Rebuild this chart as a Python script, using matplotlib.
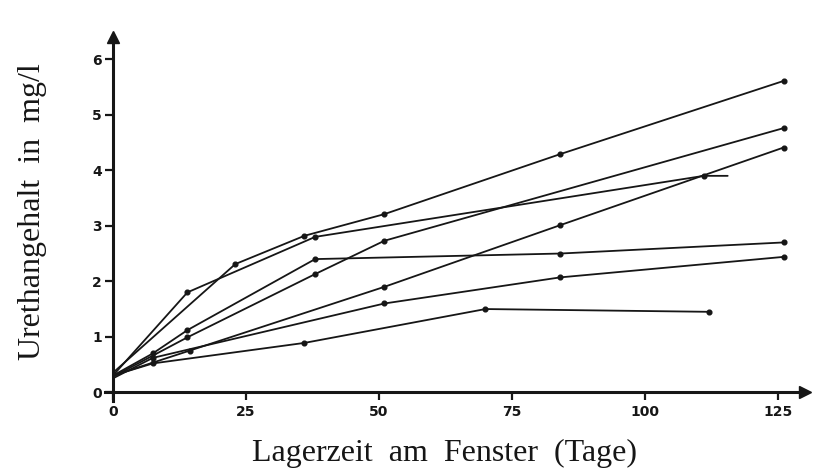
import matplotlib
matplotlib.use("Agg")
import matplotlib.pyplot as plt

# ---- data ----
days_a = [0, 23, 36, 51, 84, 126]
vals_a = [0.35, 2.31, 2.82, 3.21, 4.29, 5.61]

days_b = [0, 14, 38, 111, 115.5]
vals_b = [0.30, 1.80, 2.80, 3.90, 3.90]

days_c = [0, 7.5, 14, 38, 84, 126]
vals_c = [0.30, 0.70, 1.12, 2.40, 2.50, 2.70]

days_d = [0, 14, 38, 51, 126]
vals_d = [0.28, 0.99, 2.13, 2.73, 4.76]

days_e = [0, 14.4, 51, 84, 126]
vals_e = [0.30, 0.75, 1.90, 3.01, 4.41]

days_f = [0, 7.5, 51, 84, 126]
vals_f = [0.25, 0.62, 1.60, 2.07, 2.44]

days_g = [0, 7.5, 36, 70, 112]
vals_g = [0.30, 0.52, 0.89, 1.50, 1.45]

x_ticks = [0, 25, 50, 75, 100, 125]
y_ticks = [0, 1, 2, 3, 4, 5, 6]
x_label = "Lagerzeit  am  Fenster  (Tage)"
y_label = "Urethangehalt  in  mg/l"

series = [(days_a, vals_a), (days_b, vals_b), (days_c, vals_c), (days_d, vals_d),
          (days_e, vals_e), (days_f, vals_f), (days_g, vals_g)]

fig = plt.figure(figsize=(8.13, 4.75), dpi=100)
ax = fig.add_axes([0.129, 0.1566, 0.861, 0.7653])
ax.set_xlim(-1.5, 130)
ax.set_ylim(-0.15, 6.4)

ink = "#161616"
for d, v in series:
    n = len(d)
    mk = list(range(1, n)) if d is not days_b else list(range(1, n - 1))
    ax.plot(d, v, color=ink, lw=1.3, marker="o", markersize=3.4,
            markevery=mk, solid_capstyle="round")

for s in ("top", "right"):
    ax.spines[s].set_visible(False)
ax.spines["left"].set_position(("data", 0))
ax.spines["bottom"].set_position(("data", 0))
ax.spines["left"].set_linewidth(2.2)
ax.spines["bottom"].set_linewidth(2.2)
ax.spines["left"].set_color(ink)
ax.spines["bottom"].set_color(ink)

ax.plot(1, 0, ">", color=ink, markersize=8, transform=ax.get_yaxis_transform(), clip_on=False)
ax.plot(0, 1, "^", color=ink, markersize=8, transform=ax.get_xaxis_transform(), clip_on=False)

ax.set_xticks(x_ticks)
ax.set_yticks(y_ticks)
ax.set_xticklabels([str(t) for t in x_ticks], fontweight="bold", fontsize=10, family="DejaVu Sans")
ax.set_yticklabels([str(t) for t in y_ticks], fontweight="bold", fontsize=10, family="DejaVu Sans")
ax.tick_params(axis="x", direction="out", length=6, width=1.6, color=ink, pad=3, labelcolor=ink)
ax.tick_params(axis="y", direction="out", length=6, width=1.6, color=ink, pad=2, labelcolor=ink)

fig.text(0.547, 0.046, x_label, ha="center", va="center", fontsize=23,
         family="Liberation Serif", color=ink)
fig.text(0.040, 0.555, y_label, ha="center", va="center", rotation=90, fontsize=23,
         family="Liberation Serif", color=ink)

fig.savefig("out.png", dpi=100, facecolor="white")
